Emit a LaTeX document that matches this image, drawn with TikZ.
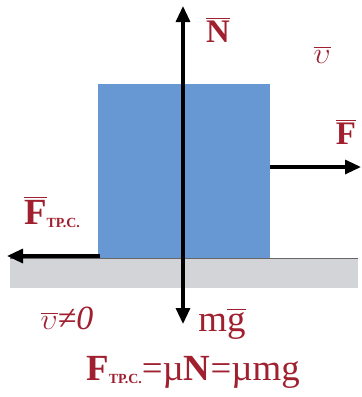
\documentclass[tikz,border=0pt]{standalone}
\usepackage{graphicx}
\usepackage{fontspec}
\setmainfont{Liberation Serif}
\usetikzlibrary{arrows.meta}
\definecolor{lblred}{RGB}{160,32,48}
\definecolor{blockblue}{RGB}{104,152,212}
\definecolor{groundgrey}{RGB}{210,212,216}
\newcommand\ovec[1]{\leavevmode\vbox{\hrule height 1.4bp\kern2bp\hbox{#1}}}
\newcommand\subtr{\raisebox{-3bp}{\fontsize{14}{15}\selectfont\bfseries ТР.С.}}
\newcommand\vel{\resizebox{17bp}{!}{$\upsilon$}}
\tikzset{
  force/.style={draw=black, line width=3.2bp, -{Triangle[length=16bp,width=14bp]}},
  lbl/.style={text=lblred, inner sep=0pt, font=\fontsize{37}{39}\selectfont}
}
\begin{document}
\begin{tikzpicture}[x=1bp,y=-1bp]
\useasboundingbox (0,0) rectangle (362,397);
% ground
\node[fill=groundgrey, draw=none, minimum width=348bp, minimum height=30bp, inner sep=0pt, anchor=north west] (ground) at (10,258) {};
\draw[draw=black!60, line width=0.8bp] (ground.north west) -- (ground.north east);
% block
\node[fill=blockblue, draw=none, minimum width=172bp, minimum height=174bp, inner sep=0pt, anchor=south west] (block) at (98,258) {};
% points
\coordinate (c) at (183,167);
\coordinate (ntip) at (183,6);
\coordinate (gtip) at (183,324);
\coordinate (ftip) at (361,167);
\coordinate (frstart) at (100,256);
\coordinate (frtip) at (7,256);
\coordinate (fstart) at (270,167);
% forces
\draw[force] (c) -- (ntip);
\draw[force] (c) -- (gtip);
\draw[force] (fstart) -- (ftip);
\draw[force] (frstart) -- (frtip);
% labels
\node[lbl, font=\fontsize{33}{35}\selectfont\bfseries] (nl) at (218,30) {\ovec{N}};
\node[lbl] (vl) at (322,55) {\ovec{\vel}};
\node[lbl, font=\fontsize{33}{35}\selectfont\bfseries] (fl) at (346,132) {\ovec{F}};
\node[lbl] (frl) at (52,212) {\textbf{\ovec{F}}\subtr};
\node[lbl, font=\fontsize{34}{36}\selectfont] (v0) at (67,318) {\ovec{\vel}\textit{≠0}};
\node[lbl] (mg) at (222,324) {m\ovec{g}};
\node[lbl] (formula) at (193,372) {\textbf{F}\subtr=µ\textbf{N}=µmg};
\end{tikzpicture}
\end{document}
